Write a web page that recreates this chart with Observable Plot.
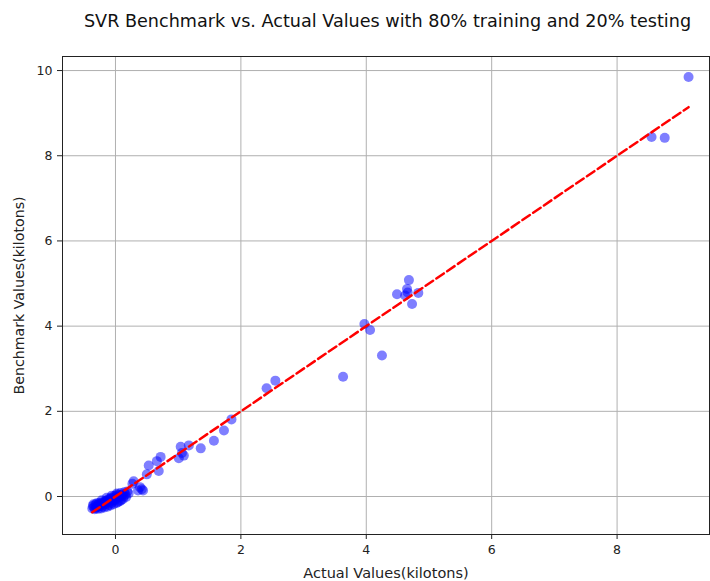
<!DOCTYPE html>
<html>
<head>
<meta charset="utf-8">
<script src="https://cdn.jsdelivr.net/npm/d3@7"></script>
<script src="https://cdn.jsdelivr.net/npm/@observablehq/plot@0.6"></script>
<style>
  html, body { margin: 0; padding: 0; background: #fff; }
  #wrap { position: relative; width: 710px; height: 581px; font-family: "DejaVu Sans", sans-serif; }
  #title { position: absolute; left: 40px; width: 695px; top: 11px; text-align: center; font-size: 17.6px; color: #111; white-space: nowrap; }
  #chart { position: absolute; left: 0; top: 40px; }
</style>
</head>
<body>
<div id="wrap">
  <div id="title"></div>
  <div id="chart"></div>
</div>
<script>
const titleText = "SVR Benchmark vs. Actual Values with 80% training and 20% testing";
const xLabel = "Actual Values(kilotons)";
const yLabel = "Benchmark Values(kilotons)";
const xTicks = [0, 2, 4, 6, 8];
const yTicks = [0, 2, 4, 6, 8, 10];

const actual = [
  9.14, 8.55, 8.76,
  4.68, 4.49, 4.65, 4.66, 4.62, 4.83, 4.73,
  3.97, 4.06, 4.25, 3.63,
  2.41, 2.55,
  1.85, 1.73, 1.57, 1.36, 1.17, 1.04, 1.09, 1.01, 1.06,
  0.72, 0.66, 0.53, 0.50, 0.69,
  0.29, 0.27, 0.39, 0.44, 0.36, 0.42,
  -0.37, -0.36, -0.33, -0.32, -0.30, -0.28, -0.27, -0.25, -0.23, -0.22,
  -0.20, -0.18, -0.17, -0.15, -0.13, -0.12, -0.10, -0.08, -0.07, -0.05,
  -0.03, -0.02, 0.00, 0.02, 0.03, 0.05, 0.07, 0.08, 0.10, 0.12,
  0.14, 0.16, 0.19, 0.21, -0.34, -0.29, -0.19, -0.09, 0.01, 0.11,
  -0.24, -0.14, -0.04, 0.06,
  -0.35, -0.31, -0.26, -0.21, -0.16, -0.11, -0.06, -0.01, 0.04, 0.09,
  -0.30, -0.22, -0.14, -0.06, 0.02, 0.13, 0.17
];
const benchmark = [
  9.85, 8.44, 8.42,
  5.08, 4.75, 4.87, 4.79, 4.72, 4.78, 4.52,
  4.05, 3.91, 3.31, 2.81,
  2.54, 2.72,
  1.81, 1.55, 1.31, 1.13, 1.20, 1.17, 0.96, 0.90, 1.02,
  0.93, 0.83, 0.73, 0.52, 0.60,
  0.36, 0.30, 0.22, 0.14, 0.14, 0.17,
  -0.28, -0.22, -0.30, -0.19, -0.25, -0.29, -0.18, -0.23, -0.28, -0.14,
  -0.20, -0.26, -0.11, -0.17, -0.24, -0.07, -0.13, -0.21, -0.03, -0.10,
  -0.18, 0.01, -0.06, -0.15, 0.05, -0.02, -0.11, 0.08, 0.02, -0.06,
  0.10, 0.05, 0.12, 0.07, -0.26, -0.21, -0.15, -0.06, 0.00, 0.04,
  -0.19, -0.10, -0.04, 0.03,
  -0.18, -0.27, -0.15, -0.24, -0.12, -0.20, -0.15, -0.09, -0.13, -0.09,
  -0.16, -0.09, -0.03, 0.02, 0.07, 0.00, -0.01
];

document.getElementById("title").textContent = titleText;

const points = actual.map((a, i) => ({actual: a, benchmark: benchmark[i]}));
const lo = d3.min(actual), hi = d3.max(actual);
const refLine = [{v: lo}, {v: hi}];

const plot = Plot.plot({
  width: 710,
  height: 541,
  marginTop: 16,
  marginBottom: 47,
  marginLeft: 62,
  marginRight: 1,
  style: {fontFamily: "DejaVu Sans, sans-serif", fontSize: "12px", color: "#222", background: "white"},
  x: {domain: [-0.845, 9.474]},
  y: {domain: [-0.892, 10.33]},
  marks: [
    Plot.gridX(xTicks, {stroke: "#b0b0b0", strokeOpacity: 1, strokeWidth: 1}),
    Plot.gridY(yTicks, {stroke: "#b0b0b0", strokeOpacity: 1, strokeWidth: 1}),
    Plot.dot(points, {x: "actual", y: "benchmark", r: 5, fill: "blue", fillOpacity: 0.5, stroke: "none"}),
    Plot.line(refLine, {x: "v", y: "v", stroke: "red", strokeWidth: 2.5, strokeDasharray: "9,4"}),
    Plot.frame({stroke: "#222", strokeWidth: 1}),
    Plot.axisX(xTicks, {tickSize: 5, tickPadding: 6, fontSize: 12.5, label: null, tickFormat: d => String(d)}),
    Plot.axisY(yTicks, {tickSize: 5, tickPadding: 5, fontSize: 12.5, label: null, tickFormat: d => String(d)}),
    Plot.text([xLabel], {frameAnchor: "bottom", textAnchor: "middle", lineAnchor: "middle", dy: 39, fontSize: 14.5, fill: "#222"}),
    Plot.text([yLabel], {frameAnchor: "left", textAnchor: "middle", lineAnchor: "middle", dx: -43, rotate: -90, fontSize: 14.2, fill: "#222"})
  ]
});
document.getElementById("chart").appendChild(plot);
</script>
</body>
</html>
